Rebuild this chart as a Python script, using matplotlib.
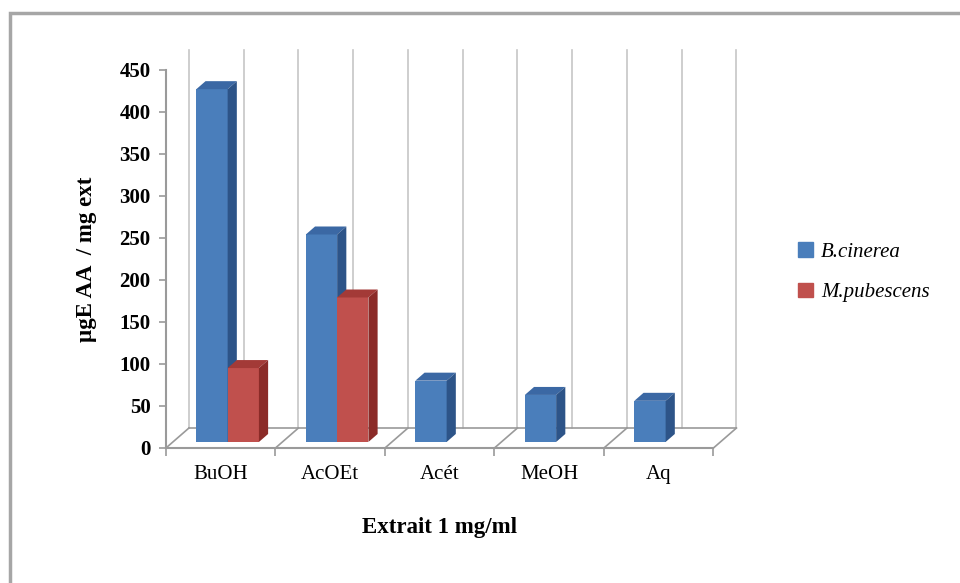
import matplotlib.pyplot as plt
import numpy as np
from matplotlib.patches import Polygon, Patch, Rectangle

# Antioxidant activity per extract
extraits = ["BuOH", "AcOEt", "Acét", "MeOH", "Aq"]
b_cinerea = [420, 247, 73, 56, 49]
m_pubescens = [88, 172, 0, 0, 0]
series = ["B.cinerea", "M.pubescens"]
yticks = [0, 50, 100, 150, 200, 250, 300, 350, 400, 450]

front = ["#4a7ebb", "#c0504d"]
side = ["#2d5488", "#8b2b28"]
top = ["#3b68a4", "#a33a37"]

plt.rcParams["font.family"] = ["Liberation Serif", "DejaVu Serif"]

fig = plt.figure(figsize=(9.6, 5.83), dpi=100)
ax = fig.add_axes([0.1729, 0.2316, 0.5703, 0.6484])
ax.set_xlim(0, len(extraits))
ax.set_ylim(0, 450)

# depth of the floor and of each bar (x in categories, y in value units)
ddx, ddy = 0.21, 23.8
bdx, bdy = 0.4 * ddx, 0.4 * ddy
ox, oy = 0.3 * ddx, 0.3 * ddy
w = 1 / 3.5  # gap width 150 %

grid_c = "#c6c6c6"
edge_c = "#9a9a9a"

# back wall
n = len(extraits)
for gx in np.arange(0, n + 0.01, 0.5):
    ax.plot([gx + ddx, gx + ddx], [ddy, 450 + ddy], color=grid_c, lw=1.2,
            clip_on=False, zorder=1)

# floor
ax.plot([ddx, n + ddx], [ddy, ddy], color=edge_c, lw=1.2, clip_on=False, zorder=1)
for i in range(n + 1):
    ax.plot([i, i + ddx], [0, ddy], color=edge_c, lw=1.2, clip_on=False, zorder=1)
ax.plot([0, n], [0, 0], color=edge_c, lw=1.5, clip_on=False, zorder=2)

# columns
for k, vals in enumerate([b_cinerea, m_pubescens]):
    for i, v in enumerate(vals):
        if v <= 0:
            continue
        x0 = i + 0.75 * w + k * w + ox
        z = 3 + i * 2 + k * 0.5
        ax.bar(x0, v, width=w, bottom=oy, align="edge", color=front[k],
               lw=0, zorder=z, clip_on=False)
        t = oy + v
        ax.add_patch(Polygon([(x0, t), (x0 + w, t), (x0 + w + bdx, t + bdy),
                              (x0 + bdx, t + bdy)], closed=True, color=top[k],
                             lw=0, zorder=z, clip_on=False))
        ax.add_patch(Polygon([(x0 + w, oy), (x0 + w + bdx, oy + bdy),
                              (x0 + w + bdx, t + bdy), (x0 + w, t)], closed=True,
                             color=side[k], lw=0, zorder=z, clip_on=False))

for s in ["top", "right", "bottom"]:
    ax.spines[s].set_visible(False)
ax.spines["left"].set_color(edge_c)
ax.spines["left"].set_linewidth(1.5)
ax.set_facecolor("none")

ax.set_yticks(yticks)
ax.set_yticklabels([str(v) for v in yticks], fontsize=15, fontweight="bold")
ax.tick_params(axis="y", length=5, color=edge_c, width=1.2, pad=6)

ax.set_xticks(np.arange(n + 1))
ax.set_xticklabels([])
ax.tick_params(axis="x", length=6, color=edge_c, width=1.2)
for i, name in enumerate(extraits):
    ax.text(i + 0.5, -32, name, ha="center", va="center", fontsize=15,
            transform=ax.transData)

ax.set_xlabel("Extrait 1 mg/ml", fontsize=16.5, fontweight="bold", labelpad=40)
ax.set_ylabel("µgE AA  / mg ext", fontsize=16.5, fontweight="bold", labelpad=16)

handles = [Patch(color=front[0]), Patch(color=front[1])]
fig.legend(handles, series, loc="center left", bbox_to_anchor=(0.812, 0.533),
           frameon=False, prop={"style": "italic", "size": 15},
           handlelength=0.7, handleheight=0.7, handletextpad=0.4, labelspacing=1.0)

# outer chart frame
fig.add_artist(Rectangle((0.0104, -0.1), 1.2, 1.0777, transform=fig.transFigure,
                         fill=False, edgecolor="#a6a6a6", lw=2.5))

fig.savefig("out.png", dpi=100)
